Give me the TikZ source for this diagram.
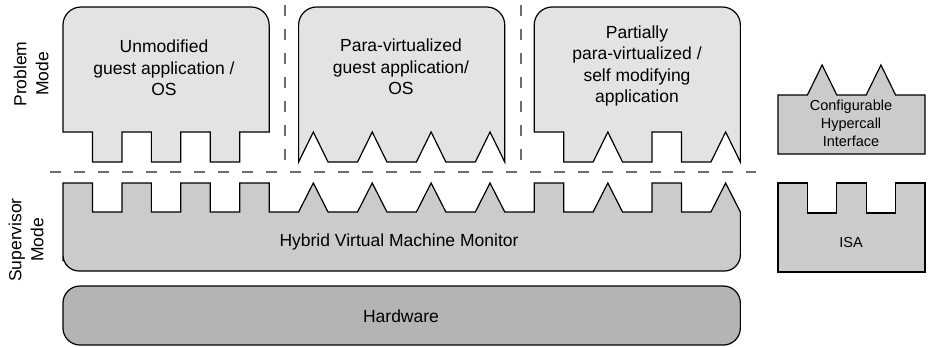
\documentclass[tikz,border=0pt]{standalone}
\usepackage{fontspec}
\setmainfont{Liberation Sans}
\begin{document}
\begin{tikzpicture}[x=1pt,y=-1pt,
  outline/.style={draw=black,line width=1.2pt,line join=miter},
  guestbox/.style={outline,fill=guestfill},
  vmmbox/.style={outline,fill=vmmfill},
  hwbox/.style={outline,fill=hwfill},
  sep/.style={draw=sepgray,line width=1.8pt,dash pattern=on 11pt off 13pt},
  bigtext/.style={align=center,inner sep=0pt,font=\fontsize{17.5}{21.5}\selectfont},
  smalltext/.style={align=center,inner sep=0pt,font=\fontsize{14.5}{18}\selectfont},
  sidetext/.style={align=center,inner sep=0pt,rotate=90,font=\fontsize{17.5}{22}\selectfont}]
\definecolor{guestfill}{HTML}{E3E3E3}
\definecolor{vmmfill}{HTML}{CBCBCB}
\definecolor{hwfill}{HTML}{B4B4B4}
\definecolor{sepgray}{HTML}{6E6E6E}
\useasboundingbox (0,0) rectangle (928,346);
% slot grid: x_k = 63 + k*u
\def\u{29.45}
\def\X#1{{63+(#1)*\u}}
% guest level: body bottom 132, teeth bottom 162
\def\gb{132}\def\gt{162}
% monitor level: teeth top 183, notch bottom 212
\def\mt{183}\def\mn{212}

% --- guest 1: square teeth
\draw[guestbox] (\X{0},\gb) -- (\X{0},100) [rounded corners=18] -- (\X{0},7) -- (\X{7},7) -- (\X{7},100) [sharp corners]
  -- (\X{7},\gb) -- (\X{6},\gb) -- (\X{6},\gt) -- (\X{5},\gt) -- (\X{5},\gb) -- (\X{4},\gb) -- (\X{4},\gt)
  -- (\X{3},\gt) -- (\X{3},\gb) -- (\X{2},\gb) -- (\X{2},\gt) -- (\X{1},\gt) -- (\X{1},\gb) -- cycle;
% --- guest 2: triangular notches
\draw[guestbox] (\X{8},\gt) -- (\X{8},100) [rounded corners=18] -- (\X{8},7) -- (\X{15},7) -- (\X{15},100) [sharp corners]
  -- (\X{15},\gt) -- (\X{14.5},\gb) -- (\X{14},\gt) -- (\X{13},\gt) -- (\X{12.5},\gb) -- (\X{12},\gt)
  -- (\X{11},\gt) -- (\X{10.5},\gb) -- (\X{10},\gt) -- (\X{9},\gt) -- (\X{8.5},\gb) -- cycle;
% --- guest 3: mixed notches
\draw[guestbox] (\X{16},\gb) -- (\X{16},100) [rounded corners=18] -- (\X{16},7) -- (\X{23},7) -- (\X{23},100) [sharp corners]
  -- (\X{23},\gt) -- (\X{22.5},\gb) -- (\X{22},\gt) -- (\X{21},\gt) -- (\X{21},\gb) -- (\X{20},\gb) -- (\X{20},\gt)
  -- (\X{19},\gt) -- (\X{18.5},\gb) -- (\X{18},\gt) -- (\X{17},\gt) -- (\X{17},\gb) -- cycle;

% --- hybrid virtual machine monitor
\draw[vmmbox] (\X{0},\mt) -- (\X{1},\mt) -- (\X{1},\mn) -- (\X{2},\mn) -- (\X{2},\mt) -- (\X{3},\mt) -- (\X{3},\mn)
  -- (\X{4},\mn) -- (\X{4},\mt) -- (\X{5},\mt) -- (\X{5},\mn) -- (\X{6},\mn) -- (\X{6},\mt) -- (\X{7},\mt) -- (\X{7},\mn)
  -- (\X{8},\mn) -- (\X{8.5},\mt) -- (\X{9},\mn) -- (\X{10},\mn) -- (\X{10.5},\mt) -- (\X{11},\mn)
  -- (\X{12},\mn) -- (\X{12.5},\mt) -- (\X{13},\mn) -- (\X{14},\mn) -- (\X{14.5},\mt) -- (\X{15},\mn)
  -- (\X{16},\mn) -- (\X{16},\mt) -- (\X{17},\mt) -- (\X{17},\mn) -- (\X{18},\mn) -- (\X{18.5},\mt) -- (\X{19},\mn)
  -- (\X{20},\mn) -- (\X{20},\mt) -- (\X{21},\mt) -- (\X{21},\mn) -- (\X{22},\mn) -- (\X{22.5},\mt) -- (\X{23},\mn)
  -- (\X{23},245) [rounded corners=16] -- (\X{23},271) -- (\X{0},271) -- (\X{0},245) [sharp corners] -- cycle;

% --- hardware
\draw[hwbox,rounded corners=17] (\X{0},286) rectangle (\X{23},345);

% --- hypercall interface and ISA
\def\c#1{{778+(#1)*29.4}}
\draw[vmmbox] (\c{0},154) -- (\c{0},95) -- (\c{1},95) -- (\c{1.5},65) -- (\c{2},95) -- (\c{3},95) -- (\c{3.5},65)
  -- (\c{4},95) -- (\c{5},95) -- (\c{5},154) -- cycle;
\draw[vmmbox] (\c{0},272) -- (\c{0},183) -- (\c{1},183) -- (\c{1},213) -- (\c{2},213) -- (\c{2},183) -- (\c{3},183)
  -- (\c{3},213) -- (\c{4},213) -- (\c{4},183) -- (\c{5},183) -- (\c{5},272) -- cycle;

% --- mode separators
\coordinate (hsepA) at (50,172);
\coordinate (hsepB) at (756,172);
\coordinate (vsepA1) at (285,5);
\coordinate (vsepA2) at (285,163);
\coordinate (vsepB1) at (521,5);
\coordinate (vsepB2) at (521,163);
\draw[sep] (hsepA) -- (hsepB);
\draw[sep] (vsepA1) -- (vsepA2);
\draw[sep] (vsepB1) -- (vsepB2);

% --- labels
\node[bigtext] (guestA) at (164,68) {Unmodified\\guest application /\\OS};
\node[bigtext] (guestB) at (401,67) {Para-virtualized\\guest application/\\OS};
\node[bigtext] (guestC) at (637,66) {Partially\\para-virtualized /\\self modifying\\application};
\node[bigtext] (vmm) at (399,242) {Hybrid Virtual Machine Monitor};
\node[bigtext] (hw) at (401,316) {Hardware};
\node[smalltext] (hci) at (851,123) {Configurable\\Hypercall\\Interface};
\node[smalltext] (isa) at (851,243) {ISA};
\node[sidetext] (pmode) at (31,74) {Problem\\Mode};
\node[sidetext] (smode) at (26,240) {Supervisor\\Mode};
\end{tikzpicture}
\end{document}
